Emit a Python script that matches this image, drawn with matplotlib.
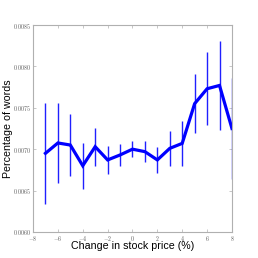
import numpy as np
import matplotlib
matplotlib.use("Agg")
import matplotlib.pyplot as plt

plt.rcParams['mathtext.fontset'] = 'cm'

# change in stock price (%)
change = [-7, -6, -5, -4, -3, -2, -1, 0, 1, 2, 3, 4, 5, 6, 7, 8]
# mean percentage of words
pct = [0.00695, 0.007075, 0.00705, 0.0068, 0.00703, 0.00687, 0.00693, 0.007,
       0.00697, 0.00687, 0.00701, 0.00707, 0.00755, 0.00773, 0.00777, 0.00725]
# error bar half-lengths
err = [0.00061, 0.00048, 0.00037, 0.00028, 0.00023, 0.00017, 0.00013, 0.0001,
       0.00013, 0.00016, 0.00021, 0.00027, 0.00036, 0.00044, 0.00054, 0.00061]

xticks = [-8, -6, -4, -2, 0, 2, 4, 6, 8]
yticks = [0.0060, 0.0065, 0.0070, 0.0075, 0.0080, 0.0085]

fig = plt.figure(figsize=(2.58, 2.58), dpi=100)
ax = fig.add_axes([0.128, 0.101, 0.771, 0.802])

ax.errorbar(change, pct, yerr=err, fmt='none', ecolor='#2020ff', elinewidth=1.0, capsize=0)
ax.plot(change, pct, color='#0000ff', lw=2.3, solid_joinstyle='miter')

ax.set_xlim(-8, 8)
ax.set_ylim(0.0060, 0.0085)
ax.set_xticks(xticks)
ax.set_xticklabels([r'$%d$' % t for t in xticks])
ax.set_yticks(yticks)
ax.set_yticklabels([r'$%.4f$' % t for t in yticks])

for s in ax.spines.values():
    s.set_color('#b0b0b0')
    s.set_linewidth(0.8)
ax.tick_params(direction='in', length=2, width=0.5, color='#b0b0b0',
               labelsize=4.2, labelcolor='#555555', pad=1.2,
               top=True, right=True)

ax.set_xlabel('Change in stock price (%)', fontsize=7.7, family='Liberation Sans')
ax.set_ylabel('Percentage of words', fontsize=7.7, family='Liberation Sans')
ax.xaxis.set_label_coords(0.5, -0.045)
ax.yaxis.set_label_coords(-0.1, 0.5)

fig.savefig('out.png', dpi=100)
